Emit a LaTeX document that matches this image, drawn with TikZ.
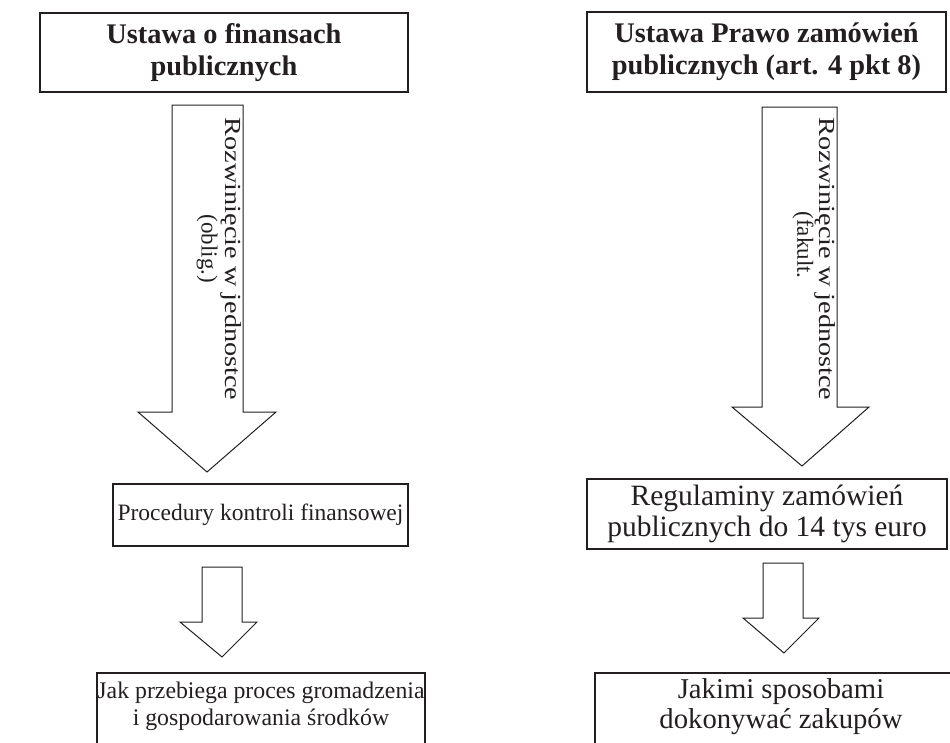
\documentclass[tikz,border=0pt]{standalone}
\usepackage{fontspec}
\setmainfont{Liberation Serif}
\definecolor{ink}{HTML}{231F20}
\begin{document}
\begin{tikzpicture}[x=1pt,y=-1pt,
  frame/.style={draw=ink, line width=2.6pt, inner sep=0pt, align=center, text=ink},
  headfont/.style={font=\fontsize{28.4}{32}\selectfont\bfseries},
  bodyfont/.style={font=\fontsize{23.5}{30}\selectfont},
  bigfont/.style={font=\fontsize{29.5}{31}\selectfont},
  plain/.style={text=ink, align=center, inner sep=0pt},
  blockarrow/.style={draw=ink, line width=1pt, fill=white, line join=miter},
  arrowtext/.style={font=\fontsize{23}{23}\selectfont, text=ink, rotate=-90, inner sep=0pt}]
\path[use as bounding box] (0,0) rectangle (950,742);
\clip (0,0) rectangle (950,742);
% header boxes
\node[frame, headfont, minimum width=368pt, minimum height=79pt] (h1) at (224,52.5) {Ustawa o finansach\\publicznych};
\node[frame, headfont, minimum width=359pt, minimum height=80pt] (h2) at (766.5,52) {Ustawa Prawo zamówień\\publicznych (art. 4 pkt 8)};
% middle boxes
\node[frame, bodyfont, minimum width=295pt, minimum height=62pt] (m1) at (260.5,515) {Procedury kontroli finansowej};
\node[frame, bigfont, minimum width=360pt, minimum height=70pt] (m2) at (767,514) {Regulaminy zamówień\\publicznych do 14 tys euro};
% bottom boxes (cut by the lower edge)
\draw[ink, line width=2.6pt] (97,760) -- (97,673) -- (425,673) -- (425,760);
\node[plain, anchor=north, font=\fontsize{23.8}{27}\selectfont] (b1) at (261,682) {Jak przebiega proces gromadzenia\\i gospodarowania środków};
\draw[ink, line width=2.6pt] (595,760) -- (595,673) -- (967,673) -- (967,760);
\node[plain, anchor=north, font=\fontsize{28.7}{30}\selectfont] (b2) at (781,678) {Jakimi sposobami\\dokonywać zakupów};
% big arrows
\draw[blockarrow] (172,105) -- (243,105) -- (243,412) -- (276,412) -- (207,472) -- (138,412) -- (172,412) -- cycle;
\draw[blockarrow] (762,107) -- (837,107) -- (837,407) -- (869,407) -- (802,466) -- (732,407) -- (762,407) -- cycle;
\node[arrowtext, xscale=1.23] (t1) at (231,259) {Rozwinięcie w jednostce};
\node[arrowtext] (t1b) at (207,249) {(oblig.)};
\node[arrowtext, xscale=1.23] (t2) at (825,259) {Rozwinięcie w jednostce};
\node[arrowtext] (t2b) at (803,245) {(fakult.};
% small arrows
\draw[blockarrow] (202,567) -- (242,567) -- (242,622) -- (257,622) -- (222,657) -- (180,622) -- (202,622) -- cycle;
\draw[blockarrow] (763,563) -- (803,563) -- (803,618) -- (819,618) -- (784,653) -- (743,618) -- (763,618) -- cycle;
\end{tikzpicture}
\end{document}
